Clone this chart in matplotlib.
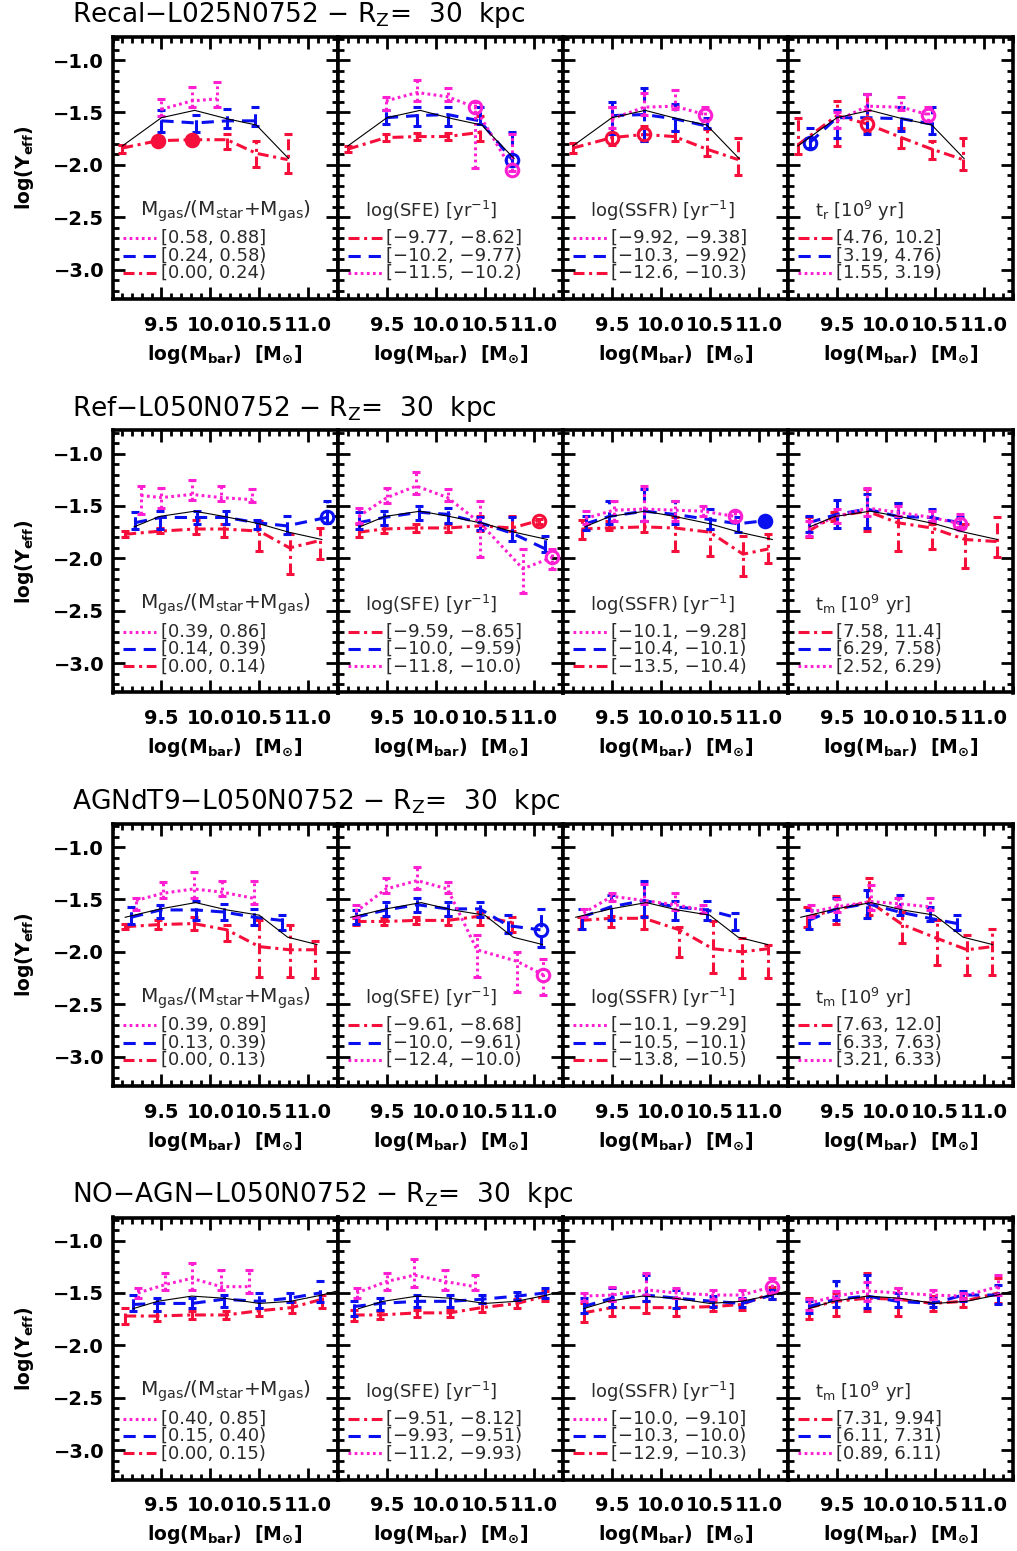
import matplotlib
matplotlib.use("Agg")
import matplotlib.pyplot as plt
from matplotlib.lines import Line2D
from matplotlib.ticker import FixedLocator, MultipleLocator


plt.rcParams["font.family"] = ["DejaVu Sans"]
plt.rcParams["mathtext.default"] = "regular"


OUTPUT = "out.png"


# every point: (log Mbar, log Yeff, lower end of bar, upper end of bar, circle flag)
# circle flag: 0 = none, 1 = open circle, 2 = filled circle

# ---------------- Recal-L025N0752 ----------------
REC_X_ALL = [9.10, 9.50, 9.84, 10.17, 10.47, 10.80]
REC_Y_ALL = [-1.82, -1.55, -1.48, -1.56, -1.62, -1.94]

REC_GAS_MAG = [(9.50, -1.47, -1.53, -1.37, 0), (9.81, -1.39, -1.45, -1.26, 0),
               (10.07, -1.37, -1.45, -1.21, 0)]
REC_GAS_BLU = [(9.50, -1.58, -1.69, -1.48, 0), (9.85, -1.60, -1.69, -1.52, 0),
               (10.17, -1.58, -1.65, -1.47, 0), (10.46, -1.58, -1.63, -1.45, 0)]
REC_GAS_RED = [(9.10, -1.84, -1.89, -1.81, 0), (9.46, -1.77, -1.79, -1.74, 2),
               (9.81, -1.76, -1.79, -1.73, 2), (10.17, -1.76, -1.85, -1.71, 0),
               (10.47, -1.89, -2.02, -1.77, 0), (10.79, -1.95, -2.08, -1.71, 0)]

REC_SFE_RED = [(9.10, -1.85, -1.88, -1.82, 0), (9.49, -1.74, -1.77, -1.71, 0),
               (9.81, -1.73, -1.76, -1.70, 0), (10.12, -1.73, -1.76, -1.70, 0),
               (10.45, -1.69, -1.77, -1.53, 0)]
REC_SFE_BLU = [(9.49, -1.55, -1.61, -1.48, 0), (9.81, -1.53, -1.63, -1.45, 0),
               (10.12, -1.52, -1.63, -1.45, 0), (10.45, -1.58, -1.61, -1.45, 0),
               (10.78, -1.95, -2.00, -1.69, 1)]
REC_SFE_MAG = [(9.49, -1.39, -1.48, -1.35, 0), (9.81, -1.31, -1.39, -1.19, 0),
               (10.12, -1.35, -1.39, -1.27, 0), (10.40, -1.45, -2.03, -1.40, 1),
               (10.78, -2.05, -2.06, -1.71, 1)]

REC_SSFR_MAG = [(9.50, -1.56, -1.65, -1.45, 0), (9.83, -1.45, -1.52, -1.31, 0),
                (10.14, -1.44, -1.47, -1.29, 0), (10.45, -1.52, -1.58, -1.45, 1)]
REC_SSFR_BLU = [(9.50, -1.53, -1.71, -1.40, 0), (9.83, -1.52, -1.77, -1.27, 0),
                (10.14, -1.56, -1.68, -1.42, 0), (10.47, -1.63, -1.65, -1.55, 0)]
REC_SSFR_RED = [(9.10, -1.84, -1.89, -1.79, 0), (9.50, -1.74, -1.81, -1.45, 1),
                (9.83, -1.71, -1.77, -1.63, 1), (10.14, -1.73, -1.77, -1.68, 0),
                (10.47, -1.85, -1.92, -1.66, 0), (10.79, -1.95, -2.10, -1.74, 0)]

REC_TR_RED = [(9.10, -1.81, -1.90, -1.55, 0), (9.50, -1.53, -1.82, -1.39, 0),
              (9.81, -1.61, -1.68, -1.32, 1), (10.16, -1.74, -1.84, -1.65, 0),
              (10.47, -1.85, -1.94, -1.77, 0), (10.79, -1.95, -2.05, -1.74, 0)]
REC_TR_BLU = [(9.22, -1.79, -1.84, -1.65, 1), (9.50, -1.55, -1.74, -1.48, 0),
              (9.81, -1.55, -1.71, -1.32, 0), (10.16, -1.56, -1.68, -1.45, 0),
              (10.47, -1.61, -1.71, -1.45, 0)]
REC_TR_MAG = [(9.50, -1.58, -1.65, -1.50, 0), (9.81, -1.44, -1.48, -1.32, 0),
              (10.16, -1.45, -1.48, -1.35, 0), (10.43, -1.52, -1.58, -1.45, 1)]

REC_LABELS = [
    ["[0.58, 0.88]", "[0.24, 0.58)", "[0.00, 0.24)"],
    ["[\u22129.77, \u22128.62]", "[\u221210.2, \u22129.77)", "[\u221211.5, \u221210.2)"],
    ["[\u22129.92, \u22129.38]", "[\u221210.3, \u22129.92)", "[\u221212.6, \u221210.3)"],
    ["[4.76, 10.2]", "[3.19, 4.76)", "[1.55, 3.19)"],
]

# ---------------- Ref-L050N0752 ----------------
REF_X_ALL = [9.22, 9.48, 9.84, 10.14, 10.50, 10.80, 11.14]
REF_Y_ALL = [-1.70, -1.60, -1.55, -1.60, -1.67, -1.75, -1.82]

REF_GAS_MAG = [(9.29, -1.40, -1.58, -1.31, 0), (9.50, -1.42, -1.52, -1.33, 0),
               (9.81, -1.39, -1.44, -1.25, 0), (10.11, -1.42, -1.45, -1.31, 0),
               (10.43, -1.44, -1.46, -1.34, 0)]
REF_GAS_BLU = [(9.23, -1.66, -1.72, -1.56, 0), (9.49, -1.61, -1.72, -1.55, 0),
               (9.86, -1.61, -1.67, -1.55, 0), (10.16, -1.61, -1.67, -1.55, 0),
               (10.48, -1.66, -1.72, -1.63, 0), (10.78, -1.69, -1.77, -1.60, 0),
               (11.19, -1.61, -1.66, -1.45, 1)]
REF_GAS_RED = [(9.13, -1.77, -1.80, -1.74, 0), (9.49, -1.74, -1.76, -1.71, 0),
               (9.85, -1.72, -1.77, -1.63, 0), (10.14, -1.72, -1.80, -1.67, 0),
               (10.50, -1.74, -1.93, -1.64, 0), (10.81, -1.90, -2.15, -1.77, 0),
               (11.12, -1.83, -2.01, -1.71, 0)]

REF_SFE_RED = [(9.21, -1.75, -1.80, -1.67, 0), (9.47, -1.72, -1.76, -1.68, 0),
               (9.80, -1.71, -1.75, -1.67, 0), (10.12, -1.71, -1.75, -1.67, 0),
               (10.45, -1.69, -1.74, -1.60, 0), (10.78, -1.71, -1.74, -1.60, 0),
               (11.05, -1.64, -1.67, -1.62, 1)]
REF_SFE_BLU = [(9.21, -1.66, -1.72, -1.56, 0), (9.47, -1.61, -1.68, -1.55, 0),
               (9.83, -1.56, -1.63, -1.50, 0), (10.12, -1.58, -1.66, -1.52, 0),
               (10.45, -1.66, -1.73, -1.61, 0), (10.78, -1.76, -1.83, -1.61, 0),
               (11.12, -1.91, -1.94, -1.79, 0)]
REF_SFE_MAG = [(9.21, -1.60, -1.66, -1.52, 0), (9.50, -1.42, -1.47, -1.33, 0),
               (9.80, -1.31, -1.39, -1.18, 0), (10.12, -1.42, -1.45, -1.34, 0),
               (10.45, -1.66, -1.99, -1.45, 0), (10.89, -2.10, -2.33, -1.91, 0),
               (11.19, -1.99, -2.10, -1.91, 1)]

REF_SSFR_MAG = [(9.23, -1.62, -1.67, -1.55, 0), (9.52, -1.54, -1.64, -1.45, 0),
                (9.83, -1.53, -1.64, -1.31, 0), (10.14, -1.54, -1.64, -1.45, 0),
                (10.43, -1.55, -1.60, -1.50, 0), (10.76, -1.60, -1.64, -1.55, 1)]
REF_SSFR_BLU = [(9.23, -1.67, -1.73, -1.60, 0), (9.47, -1.60, -1.67, -1.45, 0),
                (9.83, -1.55, -1.64, -1.34, 0), (10.14, -1.58, -1.67, -1.45, 0),
                (10.50, -1.63, -1.72, -1.53, 0), (10.79, -1.67, -1.75, -1.61, 0),
                (11.07, -1.64, -1.67, -1.61, 2)]
REF_SSFR_RED = [(9.19, -1.72, -1.82, -1.63, 0), (9.47, -1.71, -1.73, -1.64, 0),
                (9.83, -1.70, -1.75, -1.64, 0), (10.14, -1.71, -1.93, -1.61, 0),
                (10.50, -1.75, -1.98, -1.72, 0), (10.84, -1.96, -2.17, -1.79, 0),
                (11.10, -1.91, -2.04, -1.77, 0)]

REF_TM_RED = [(9.21, -1.74, -1.80, -1.61, 0), (9.47, -1.60, -1.64, -1.56, 0),
              (9.81, -1.55, -1.74, -1.34, 0), (10.12, -1.66, -1.93, -1.47, 0),
              (10.47, -1.71, -1.91, -1.67, 0), (10.81, -1.82, -2.09, -1.67, 0),
              (11.14, -1.84, -1.99, -1.61, 0)]
REF_TM_BLU = [(9.21, -1.66, -1.75, -1.60, 0), (9.50, -1.58, -1.71, -1.44, 0),
              (9.81, -1.53, -1.71, -1.39, 0), (10.12, -1.60, -1.61, -1.47, 0),
              (10.47, -1.61, -1.64, -1.53, 0), (10.76, -1.66, -1.72, -1.61, 0)]
REF_TM_MAG = [(9.21, -1.71, -1.79, -1.64, 0), (9.50, -1.60, -1.66, -1.53, 0),
              (9.81, -1.52, -1.60, -1.33, 0), (10.12, -1.56, -1.60, -1.50, 0),
              (10.47, -1.61, -1.64, -1.55, 0), (10.76, -1.67, -1.70, -1.58, 1)]

REF_LABELS = [
    ["[0.39, 0.86]", "[0.14, 0.39)", "[0.00, 0.14)"],
    ["[\u22129.59, \u22128.65]", "[\u221210.0, \u22129.59)", "[\u221211.8, \u221210.0)"],
    ["[\u221210.1, \u22129.28]", "[\u221210.4, \u221210.1)", "[\u221213.5, \u221210.4)"],
    ["[7.58, 11.4]", "[6.29, 7.58)", "[2.52, 6.29)"],
]

# ---------------- AGNdT9-L050N0752 ----------------
AGN_X_ALL = [9.13, 9.49, 9.85, 10.17, 10.50, 10.79, 11.09]
AGN_Y_ALL = [-1.67, -1.59, -1.53, -1.60, -1.65, -1.86, -1.93]

AGN_GAS_MAG = [(9.24, -1.51, -1.60, -1.49, 0), (9.52, -1.44, -1.49, -1.33, 0),
               (9.83, -1.40, -1.49, -1.24, 0), (10.12, -1.43, -1.47, -1.32, 0),
               (10.45, -1.49, -1.54, -1.32, 0)]
AGN_GAS_BLU = [(9.19, -1.67, -1.73, -1.57, 0), (9.49, -1.60, -1.68, -1.55, 0),
               (9.85, -1.60, -1.70, -1.51, 0), (10.14, -1.62, -1.70, -1.54, 0),
               (10.45, -1.67, -1.74, -1.59, 0), (10.73, -1.70, -1.79, -1.65, 0)]
AGN_GAS_RED = [(9.13, -1.76, -1.78, -1.73, 0), (9.47, -1.74, -1.78, -1.70, 0),
               (9.83, -1.73, -1.79, -1.67, 0), (10.17, -1.79, -1.90, -1.74, 0),
               (10.50, -1.95, -2.24, -1.70, 0), (10.81, -1.98, -2.24, -1.74, 0),
               (11.07, -1.98, -2.25, -1.90, 0)]

AGN_SFE_RED = [(9.18, -1.71, -1.74, -1.68, 0), (9.47, -1.71, -1.74, -1.68, 0),
               (9.80, -1.70, -1.73, -1.67, 0), (10.12, -1.70, -1.74, -1.66, 0),
               (10.45, -1.66, -1.74, -1.62, 0), (10.78, -1.72, -1.81, -1.67, 0)]
AGN_SFE_BLU = [(9.18, -1.67, -1.73, -1.60, 0), (9.49, -1.60, -1.66, -1.52, 0),
               (9.81, -1.55, -1.62, -1.49, 0), (10.12, -1.59, -1.66, -1.52, 0),
               (10.45, -1.59, -1.67, -1.52, 0), (10.74, -1.75, -1.82, -1.65, 0),
               (11.07, -1.79, -1.95, -1.59, 1)]
AGN_SFE_MAG = [(9.18, -1.62, -1.67, -1.55, 0), (9.49, -1.40, -1.44, -1.30, 0),
               (9.81, -1.32, -1.40, -1.19, 0), (10.12, -1.40, -1.44, -1.33, 0),
               (10.42, -1.98, -2.24, -1.84, 0), (10.83, -2.09, -2.38, -2.00, 0),
               (11.10, -2.22, -2.41, -2.07, 1)]

AGN_SSFR_MAG = [(9.21, -1.63, -1.67, -1.59, 0), (9.50, -1.47, -1.51, -1.44, 0),
                (9.83, -1.51, -1.54, -1.35, 0), (10.14, -1.55, -1.60, -1.44, 0),
                (10.43, -1.60, -1.63, -1.55, 0)]
AGN_SSFR_BLU = [(9.19, -1.67, -1.78, -1.59, 0), (9.49, -1.57, -1.70, -1.46, 0),
                (9.83, -1.51, -1.67, -1.32, 0), (10.14, -1.57, -1.70, -1.51, 0),
                (10.47, -1.60, -1.70, -1.51, 0), (10.76, -1.67, -1.79, -1.63, 0)]
AGN_SSFR_RED = [(9.18, -1.70, -1.78, -1.67, 0), (9.49, -1.68, -1.76, -1.66, 0),
                (9.83, -1.68, -1.78, -1.66, 0), (10.19, -1.79, -2.05, -1.76, 0),
                (10.53, -1.97, -2.20, -1.71, 0), (10.83, -2.00, -2.25, -1.87, 0),
                (11.10, -1.97, -2.25, -1.93, 0)]

AGN_TM_RED = [(9.19, -1.67, -1.76, -1.57, 0), (9.49, -1.60, -1.73, -1.47, 0),
              (9.83, -1.52, -1.65, -1.30, 0), (10.17, -1.74, -1.92, -1.62, 0),
              (10.52, -1.87, -2.13, -1.70, 0), (10.83, -1.98, -2.22, -1.84, 0),
              (11.09, -1.95, -2.22, -1.78, 0)]
AGN_TM_BLU = [(9.21, -1.70, -1.78, -1.60, 0), (9.49, -1.59, -1.70, -1.49, 0),
              (9.81, -1.54, -1.68, -1.41, 0), (10.14, -1.62, -1.65, -1.46, 0),
              (10.45, -1.68, -1.71, -1.57, 0), (10.73, -1.73, -1.79, -1.65, 0)]
AGN_TM_MAG = [(9.23, -1.62, -1.67, -1.55, 0), (9.50, -1.57, -1.62, -1.50, 0),
              (9.85, -1.52, -1.60, -1.36, 0), (10.12, -1.54, -1.57, -1.49, 0),
              (10.45, -1.57, -1.60, -1.49, 0)]

AGN_LABELS = [
    ["[0.39, 0.89]", "[0.13, 0.39)", "[0.00, 0.13)"],
    ["[\u22129.61, \u22128.68]", "[\u221210.0, \u22129.61)", "[\u221212.4, \u221210.0)"],
    ["[\u221210.1, \u22129.29]", "[\u221210.5, \u221210.1)", "[\u221213.8, \u221210.5)"],
    ["[7.63, 12.0]", "[6.33, 7.63)", "[3.21, 6.33)"],
]

# ---------------- NO-AGN-L050N0752 ----------------
NOAGN_X_ALL = [9.21, 9.46, 9.81, 10.14, 10.50, 10.82, 11.14, 11.30]
NOAGN_Y_ALL = [-1.65, -1.58, -1.53, -1.55, -1.60, -1.58, -1.52, -1.48]

NOAGN_GAS_MAG = [(9.26, -1.50, -1.55, -1.45, 0), (9.54, -1.42, -1.47, -1.31, 0),
                 (9.81, -1.36, -1.47, -1.21, 0), (10.11, -1.44, -1.47, -1.28, 0),
                 (10.40, -1.44, -1.50, -1.28, 0)]
NOAGN_GAS_BLU = [(9.21, -1.61, -1.67, -1.52, 0), (9.45, -1.60, -1.67, -1.55, 0),
                 (9.81, -1.60, -1.64, -1.55, 0), (10.14, -1.56, -1.63, -1.52, 0),
                 (10.50, -1.58, -1.64, -1.50, 0), (10.81, -1.55, -1.59, -1.50, 0),
                 (11.12, -1.50, -1.59, -1.39, 0)]
NOAGN_GAS_RED = [(9.13, -1.72, -1.80, -1.64, 0), (9.45, -1.72, -1.77, -1.67, 0),
                 (9.81, -1.71, -1.75, -1.67, 0), (10.16, -1.71, -1.75, -1.67, 0),
                 (10.50, -1.67, -1.72, -1.64, 0), (10.83, -1.64, -1.69, -1.59, 0),
                 (11.14, -1.56, -1.64, -1.52, 0)]

NOAGN_SFE_RED = [(9.16, -1.71, -1.77, -1.66, 0), (9.43, -1.71, -1.75, -1.67, 0),
                 (9.81, -1.69, -1.73, -1.66, 0), (10.14, -1.69, -1.73, -1.66, 0),
                 (10.47, -1.64, -1.68, -1.60, 0), (10.83, -1.60, -1.64, -1.56, 0),
                 (11.12, -1.53, -1.58, -1.48, 0)]
NOAGN_SFE_BLU = [(9.16, -1.63, -1.72, -1.58, 0), (9.43, -1.60, -1.66, -1.55, 0),
                 (9.81, -1.58, -1.63, -1.52, 0), (10.14, -1.58, -1.63, -1.52, 0),
                 (10.47, -1.56, -1.60, -1.52, 0), (10.83, -1.53, -1.57, -1.49, 0),
                 (11.12, -1.50, -1.55, -1.45, 0)]
NOAGN_SFE_MAG = [(9.19, -1.50, -1.55, -1.45, 0), (9.50, -1.39, -1.47, -1.31, 0),
                 (9.78, -1.33, -1.44, -1.18, 0), (10.09, -1.39, -1.47, -1.28, 0),
                 (10.40, -1.44, -1.47, -1.33, 0)]

NOAGN_SSFR_MAG = [(9.21, -1.53, -1.58, -1.50, 0), (9.50, -1.52, -1.58, -1.44, 0),
                  (9.85, -1.47, -1.52, -1.31, 0), (10.16, -1.50, -1.55, -1.45, 0),
                  (10.53, -1.52, -1.56, -1.47, 0), (10.83, -1.52, -1.56, -1.47, 0),
                  (11.14, -1.44, -1.50, -1.36, 1)]
NOAGN_SSFR_BLU = [(9.21, -1.63, -1.69, -1.55, 0), (9.50, -1.55, -1.63, -1.45, 0),
                  (9.85, -1.52, -1.58, -1.33, 0), (10.16, -1.55, -1.64, -1.47, 0),
                  (10.53, -1.58, -1.63, -1.53, 0), (10.83, -1.60, -1.63, -1.55, 0),
                  (11.14, -1.52, -1.56, -1.47, 0)]
NOAGN_SSFR_RED = [(9.21, -1.69, -1.78, -1.60, 0), (9.50, -1.64, -1.72, -1.58, 0),
                  (9.85, -1.64, -1.69, -1.58, 0), (10.16, -1.64, -1.72, -1.55, 0),
                  (10.53, -1.63, -1.67, -1.58, 0), (10.83, -1.61, -1.66, -1.56, 0),
                  (11.14, -1.50, -1.56, -1.44, 0)]

NOAGN_TM_RED = [(9.21, -1.64, -1.75, -1.55, 0), (9.49, -1.58, -1.72, -1.50, 0),
                (9.81, -1.55, -1.67, -1.31, 0), (10.12, -1.56, -1.72, -1.45, 0),
                (10.48, -1.60, -1.67, -1.53, 0), (10.79, -1.58, -1.63, -1.55, 0),
                (11.15, -1.50, -1.60, -1.36, 0)]
NOAGN_TM_BLU = [(9.21, -1.63, -1.69, -1.58, 0), (9.49, -1.56, -1.63, -1.39, 0),
                (9.81, -1.53, -1.64, -1.33, 0), (10.12, -1.58, -1.63, -1.50, 0),
                (10.48, -1.60, -1.63, -1.55, 0), (10.79, -1.52, -1.58, -1.48, 0),
                (11.15, -1.52, -1.61, -1.42, 0)]
NOAGN_TM_MAG = [(9.21, -1.60, -1.66, -1.56, 0), (9.49, -1.53, -1.56, -1.48, 0),
                (9.81, -1.48, -1.58, -1.40, 0), (10.12, -1.50, -1.56, -1.45, 0),
                (10.48, -1.52, -1.56, -1.47, 0), (10.79, -1.53, -1.56, -1.50, 0),
                (11.15, -1.44, -1.52, -1.33, 0)]

NOAGN_LABELS = [
    ["[0.40, 0.85]", "[0.15, 0.40)", "[0.00, 0.15)"],
    ["[\u22129.51, \u22128.12]", "[\u22129.93, \u22129.51)", "[\u221211.2, \u22129.93)"],
    ["[\u221210.0, \u22129.10]", "[\u221210.3, \u221210.0)", "[\u221212.9, \u221210.3)"],
    ["[7.31, 9.94]", "[6.11, 7.31)", "[0.89, 6.11)"],
]


ROW_TITLES = [
    "Recal\u2212L025N0752 \u2212 R$_Z$=  30  kpc",
    "Ref\u2212L050N0752 \u2212 R$_Z$=  30  kpc",
    "AGNdT9\u2212L050N0752 \u2212 R$_Z$=  30  kpc",
    "NO\u2212AGN\u2212L050N0752 \u2212 R$_Z$=  30  kpc",
]

HEADERS = [
    "M$_{gas}$/(M$_{star}$+M$_{gas}$)",
    "log(SFE) [yr$^{-1}$]",
    "log(SSFR) [yr$^{-1}$]",
    "t$_{m}$ [10$^{9}$ yr]",
]
HEADER_TR = "t$_{r}$ [10$^{9}$ yr]"
HEADER_SIZE = [14.5, 13, 13, 13]

# legend order (top to bottom) in each column
LEGEND_ORDER = [
    ["mag", "blu", "red"],
    ["red", "blu", "mag"],
    ["mag", "blu", "red"],
    ["red", "blu", "mag"],
]

ROWS = [
    (REC_X_ALL, REC_Y_ALL, REC_LABELS, [
        {"mag": REC_GAS_MAG, "blu": REC_GAS_BLU, "red": REC_GAS_RED},
        {"mag": REC_SFE_MAG, "blu": REC_SFE_BLU, "red": REC_SFE_RED},
        {"mag": REC_SSFR_MAG, "blu": REC_SSFR_BLU, "red": REC_SSFR_RED},
        {"mag": REC_TR_MAG, "blu": REC_TR_BLU, "red": REC_TR_RED},
    ]),
    (REF_X_ALL, REF_Y_ALL, REF_LABELS, [
        {"mag": REF_GAS_MAG, "blu": REF_GAS_BLU, "red": REF_GAS_RED},
        {"mag": REF_SFE_MAG, "blu": REF_SFE_BLU, "red": REF_SFE_RED},
        {"mag": REF_SSFR_MAG, "blu": REF_SSFR_BLU, "red": REF_SSFR_RED},
        {"mag": REF_TM_MAG, "blu": REF_TM_BLU, "red": REF_TM_RED},
    ]),
    (AGN_X_ALL, AGN_Y_ALL, AGN_LABELS, [
        {"mag": AGN_GAS_MAG, "blu": AGN_GAS_BLU, "red": AGN_GAS_RED},
        {"mag": AGN_SFE_MAG, "blu": AGN_SFE_BLU, "red": AGN_SFE_RED},
        {"mag": AGN_SSFR_MAG, "blu": AGN_SSFR_BLU, "red": AGN_SSFR_RED},
        {"mag": AGN_TM_MAG, "blu": AGN_TM_BLU, "red": AGN_TM_RED},
    ]),
    (NOAGN_X_ALL, NOAGN_Y_ALL, NOAGN_LABELS, [
        {"mag": NOAGN_GAS_MAG, "blu": NOAGN_GAS_BLU, "red": NOAGN_GAS_RED},
        {"mag": NOAGN_SFE_MAG, "blu": NOAGN_SFE_BLU, "red": NOAGN_SFE_RED},
        {"mag": NOAGN_SSFR_MAG, "blu": NOAGN_SSFR_BLU, "red": NOAGN_SSFR_RED},
        {"mag": NOAGN_TM_MAG, "blu": NOAGN_TM_BLU, "red": NOAGN_TM_RED},
    ]),
]


# styles
STYLE = {
    "mag": ("#ff1fd2", (0.9, 1.1)),
    "blu": ("#0a0ff0", (4.0, 2.6)),
    "red": ("#f70f3c", (3.6, 1.5, 1.0, 1.5)),
}
LW = 2.2

# layout in pixels
W, H = 1017, 1551
COL_LEFT = [112.5, 338.0, 563.0, 788.0]
PANEL_W = 225.0
ROW_TOP = [37.0, 430.5, 824.0, 1217.5]
PANEL_H = 262.0
XLIM = (9.0, 11.3)
YLIM = (-3.28, -0.78)


def draw_series(ax, pts, key):

    color, dashes = STYLE[key]

    xs = [p[0] for p in pts]
    ys = [p[1] for p in pts]
    lo = [p[2] for p in pts]
    hi = [p[3] for p in pts]

    ax.plot(xs, ys, color=color, lw=LW, dashes=dashes, zorder=3)

    ax.vlines(xs, lo, hi, colors=color, linewidth=LW,
              linestyles=[(0, dashes)], zorder=3)

    ax.plot(xs, lo, ls="none", marker="_", ms=6, mew=2.2,
            color=color, zorder=3)
    ax.plot(xs, hi, ls="none", marker="_", ms=6, mew=2.2,
            color=color, zorder=3)

    for x, y, _, _, flag in pts:
        if flag:
            ax.plot(x, y, marker="o", ms=9, mew=2.2, mec=color,
                    mfc=color if flag == 2 else "none", zorder=4)


def draw_legend(ax, header, size, order, labels):

    ax.text(0.12, 0.335, header, transform=ax.transAxes, fontsize=size,
            color="#2a2a2a", va="center", ha="left")

    for i, (key, label) in enumerate(zip(order, labels)):
        yy = 0.232 - i * 0.066
        color, dashes = STYLE[key]
        ax.add_line(Line2D([0.045, 0.195], [yy, yy], transform=ax.transAxes,
                           color=color, lw=LW, dashes=dashes))
        ax.text(0.215, yy, label, transform=ax.transAxes, fontsize=13,
                color="#2a2a2a", va="center", ha="left")


def setup_axes(ax, first):

    ax.set_xlim(*XLIM)
    ax.set_ylim(*YLIM)

    ax.xaxis.set_major_locator(FixedLocator([9.5, 10.0, 10.5, 11.0]))
    ax.xaxis.set_minor_locator(MultipleLocator(0.1))
    ax.yaxis.set_major_locator(FixedLocator([-3.0, -2.5, -2.0, -1.5, -1.0]))
    ax.yaxis.set_minor_locator(MultipleLocator(0.1))

    ax.tick_params(which="both", direction="in", top=True, right=True,
                   width=2.0, labelsize=14)
    ax.tick_params(which="major", length=8.5)
    ax.tick_params(which="minor", length=4)
    ax.tick_params(axis="x", pad=12)
    ax.tick_params(axis="y", pad=6)

    for lab in ax.get_xticklabels() + ax.get_yticklabels():
        lab.set_fontweight("bold")

    for s in ax.spines.values():
        s.set_linewidth(2.6)

    if not first:
        ax.set_yticklabels([])

    ax.set_xlabel(r"log(M$_{\mathbf{bar}}$)  [M$_{\odot}$]",
                  fontsize=13.5, fontweight="bold", labelpad=6)


def main():

    fig = plt.figure(figsize=(W / 100, H / 100), dpi=100)

    for r, (x_all, y_all, labels, panels) in enumerate(ROWS):

        top = ROW_TOP[r]

        fig.text(72 / W, 1 - (top - 22) / H, ROW_TITLES[r], fontsize=19,
                 ha="left", va="center")

        fig.text(25 / W, 1 - (top + PANEL_H / 2) / H,
                 r"log(Y$_{\mathbf{eff}}$)", rotation=90, fontsize=13.5,
                 fontweight="bold", ha="center", va="center")

        for c, series in enumerate(panels):

            ax = fig.add_axes([COL_LEFT[c] / W, 1 - (top + PANEL_H) / H,
                               PANEL_W / W, PANEL_H / H])

            setup_axes(ax, c == 0)

            for key in ["red", "blu", "mag"]:
                draw_series(ax, series[key], key)

            ax.plot(x_all, y_all, color="black", lw=0.8, zorder=5)

            header = HEADERS[c]
            if r == 0 and c == 3:
                header = HEADER_TR

            draw_legend(ax, header, HEADER_SIZE[c], LEGEND_ORDER[c],
                        labels[c])

    fig.savefig(OUTPUT, dpi=100)


if __name__ == "__main__":

    main()
